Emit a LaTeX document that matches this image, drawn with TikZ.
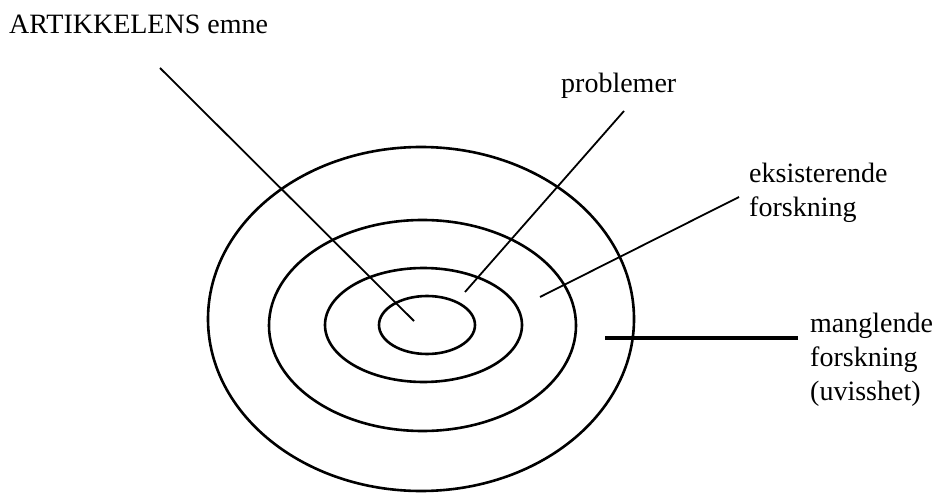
\documentclass[tikz,border=0pt]{standalone}
\usepackage{fontspec}
\setmainfont{Liberation Serif}
\usetikzlibrary{shapes.geometric}

\begin{document}
\begin{tikzpicture}[x=1pt, y=-1pt,
  ring/.style={draw, ellipse, line width=2.6pt, inner sep=0pt},
  lbl/.style={anchor=base west, align=left, inner sep=0pt, font=\fontsize{28}{34}\selectfont},
  pin/.style={line width=1.8pt}]
  \useasboundingbox (0,0) rectangle (939,494);
  \node[ring, minimum width=426, minimum height=344] (outer) at (421,319) {};
  \node[ring, minimum width=307, minimum height=211] (mid) at (422.5,325.5) {};
  \node[ring, minimum width=197, minimum height=114] (inner) at (423.5,325) {};
  \node[ring, minimum width=96, minimum height=58] (core) at (427,325) {};
  \node[lbl] (emne) at (9,34) {ARTIKKELENS emne};
  \node[lbl] (probl) at (561,93) {problemer};
  \node[lbl] (eksist) at (749,217) {eksisterende\\forskning};
  \node[lbl] (mangl) at (810,400) {manglende\\forskning\\(uvisshet)};
  \coordinate (emne-a) at (160,68);
  \coordinate (emne-b) at (414,321);
  \coordinate (probl-a) at (624,111);
  \coordinate (probl-b) at (465,292);
  \coordinate (eksist-a) at (739,197);
  \coordinate (eksist-b) at (540,297);
  \coordinate (mangl-a) at (798,338);
  \coordinate (mangl-b) at (605,338);
  \draw[pin] (emne-a) -- (emne-b);
  \draw[pin] (probl-a) -- (probl-b);
  \draw[pin] (eksist-a) -- (eksist-b);
  \draw[pin, line width=3.2pt] (mangl-a) -- (mangl-b);
\end{tikzpicture}
\end{document}
